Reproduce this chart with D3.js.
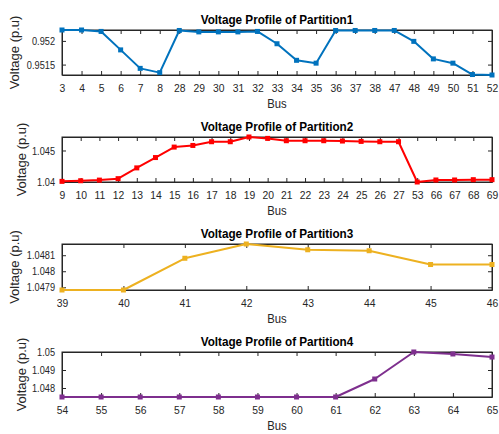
<!DOCTYPE html>
<html>
<head>
<meta charset="utf-8">
<script src="https://cdn.jsdelivr.net/npm/d3@7"></script>
<style>
  html, body { margin: 0; padding: 0; background: #fff; }
  svg text { font-family: "Liberation Sans", Arial, Helvetica, sans-serif; }
</style>
</head>
<body>
<svg id="chart" width="499" height="434"></svg>
<script>
// Bus numbers and per-unit voltages for each partition
const buses1 = ["3","4","5","6","7","8","28","29","30","31","32","33","34","35","36","37","38","47","48","49","50","51","52"];
const volts1 = [0.95223,0.95223,0.95220,0.95181,0.95142,0.95133,0.95222,0.95219,0.95219,0.95219,0.95220,0.95194,0.95159,0.95153,0.95222,0.95222,0.95222,0.95222,0.95199,0.95162,0.95153,0.95129,0.95128];
const yTicks1 = [0.9515, 0.952];
const yTickLabels1 = ["0.9515", "0.952"];

const buses2 = ["9","10","11","12","13","14","15","16","17","18","19","20","21","22","23","24","25","26","27","53","66","67","68","69"];
const volts2 = [1.04010,1.04020,1.04030,1.04053,1.04224,1.04388,1.04554,1.04580,1.04639,1.04639,1.04714,1.04692,1.04655,1.04655,1.04655,1.04650,1.04644,1.04639,1.04639,1.04000,1.04032,1.04032,1.04037,1.04037];
const yTicks2 = [1.04, 1.045];
const yTickLabels2 = ["1.04", "1.045"];

const buses3 = ["39","40","41","42","43","44","45","46"];
const volts3 = [1.047883,1.047883,1.048081,1.048170,1.048134,1.048128,1.048042,1.048042];
const yTicks3 = [1.0479, 1.048, 1.0481];
const yTickLabels3 = ["1.0479", "1.048", "1.0481"];

const buses4 = ["54","55","56","57","58","59","60","61","62","63","64","65"];
const volts4 = [1.0475,1.0475,1.0475,1.0475,1.0475,1.0475,1.0475,1.0475,1.0485,1.0500,1.04989,1.04972];
const yTicks4 = [1.048, 1.049, 1.05];
const yTickLabels4 = ["1.048", "1.049", "1.05"];

const titles = ["Voltage Profile of Partition1","Voltage Profile of Partition2","Voltage Profile of Partition3","Voltage Profile of Partition4"];
const colors = ["#0072BD", "#FF0000", "#EDB120", "#7E2F8E"];

const panels = [
  { x: buses1, y: volts1, ticks: yTicks1, labels: yTickLabels1, top: 30,  h: 45, ylx: 14 },
  { x: buses2, y: volts2, ticks: yTicks2, labels: yTickLabels2, top: 137, h: 45, ylx: 21 },
  { x: buses3, y: volts3, ticks: yTicks3, labels: yTickLabels3, top: 244, h: 46, ylx: 14 },
  { x: buses4, y: volts4, ticks: yTicks4, labels: yTickLabels4, top: 352, h: 45, ylx: 21 }
];

const svg = d3.select("#chart");
const left = 62, right = 492;
const tickLen = 4;
const axisColor = "#262626";

// narrow a text element horizontally by a factor
function condense(sel, f) {
  sel.each(function () {
    const L = this.getComputedTextLength();
    d3.select(this).attr("textLength", L * f).attr("lengthAdjust", "spacingAndGlyphs");
  });
}

panels.forEach((p, i) => {
  const g = svg.append("g").attr("transform", `translate(0,${p.top})`);
  const x = d3.scalePoint().domain(p.x).range([left, right]);
  const y = d3.scaleLinear().domain(d3.extent(p.y)).range([p.h, 0]);

  // bottom axis with inward ticks
  const xa = g.append("g").attr("transform", `translate(0,${p.h})`)
    .call(d3.axisBottom(x).tickSizeInner(-tickLen).tickSizeOuter(0).tickPadding(9));
  // top axis, ticks only
  g.append("g").call(d3.axisTop(x).tickSizeInner(-tickLen).tickSizeOuter(0).tickFormat(""));
  // left axis
  const ya = g.append("g").attr("transform", `translate(${left},0)`)
    .call(d3.axisLeft(y).tickValues(p.ticks).tickFormat((d, k) => p.labels[k])
      .tickSizeInner(-tickLen).tickSizeOuter(0).tickPadding(7));
  // right axis, ticks only
  g.append("g").attr("transform", `translate(${right},0)`)
    .call(d3.axisRight(y).tickValues(p.ticks).tickFormat("").tickSizeInner(-tickLen).tickSizeOuter(0));

  g.selectAll(".domain").attr("stroke", axisColor).attr("stroke-width", 1);
  g.selectAll(".tick line").attr("stroke", axisColor).attr("stroke-width", 1);
  g.selectAll(".tick text").attr("fill", axisColor).style("font-size", "11.5px");
  condense(xa.selectAll(".tick text"), 0.9);
  condense(ya.selectAll(".tick text"), 0.8);

  // frame
  g.append("rect").attr("x", left).attr("y", 0).attr("width", right - left).attr("height", p.h)
    .attr("fill", "none").attr("stroke", axisColor).attr("stroke-width", 1);

  // data line and square markers
  const line = d3.line().x((d, k) => x(p.x[k])).y(d => y(d));
  g.append("path").datum(p.y).attr("d", line)
    .attr("fill", "none").attr("stroke", colors[i]).attr("stroke-width", 2).attr("stroke-linejoin", "round");
  g.selectAll("rect.m").data(p.y).enter().append("rect").attr("class", "m")
    .attr("x", (d, k) => x(p.x[k]) - 2.5).attr("y", d => y(d) - 2.5)
    .attr("width", 5).attr("height", 5).attr("fill", colors[i]);

  // title
  const t = g.append("text").attr("x", (left + right) / 2).attr("y", -6)
    .attr("text-anchor", "middle").style("font-size", "13px").style("font-weight", "bold")
    .attr("fill", "#000").text(titles[i]);
  condense(t, 0.9);
  // x label
  const b = g.append("text").attr("x", (left + right) / 2).attr("y", p.h + 33)
    .attr("text-anchor", "middle").style("font-size", "12.5px").attr("fill", axisColor).text("Bus");
  condense(b, 0.9);
  // y label
  g.append("text").attr("transform", `translate(${p.ylx},${p.h / 2}) rotate(-90)`)
    .attr("text-anchor", "middle").attr("dy", "0.35em").style("font-size", "13px")
    .attr("fill", axisColor).text("Voltage (p.u)");
});
</script>
</body>
</html>
